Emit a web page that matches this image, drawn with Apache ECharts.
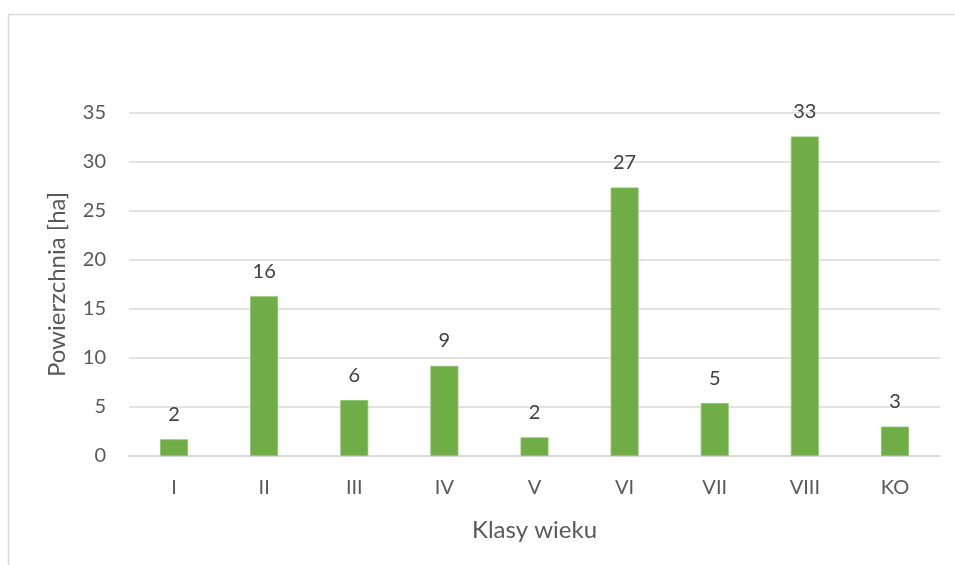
<!DOCTYPE html>
<html>
<head>
<meta charset="utf-8">
<script src="https://cdn.jsdelivr.net/npm/echarts@6/dist/echarts.min.js"></script>
<style>
  html, body { margin: 0; padding: 0; background: #fff; }
  #chart { width: 955px; height: 565px; }
</style>
</head>
<body>
<div id="chart"></div>
<script>
const categories = ["I", "II", "III", "IV", "V", "VI", "VII", "VIII", "KO"];
const areaHa = [1.7, 16.3, 5.7, 9.2, 1.9, 27.4, 5.4, 32.6, 3.0];
const yTicks = { min: 0, max: 35, interval: 5 };

const FONT = "Lato";
const BAR_COLOR = "#70AD47";

const chart = echarts.init(document.getElementById("chart"));
chart.setOption({
  animation: false,
  textStyle: { fontFamily: FONT },
  graphic: [
    {
      type: "rect",
      shape: { x: 8.5, y: 14.5, width: 1000, height: 700 },
      style: { fill: "none", stroke: "#D9D9D9", lineWidth: 1.5 },
      silent: true,
    },
  ],
  grid: { left: 129, right: 15, top: 113, bottom: 109 },
  xAxis: {
    type: "category",
    data: categories,
    name: "Klasy wieku",
    nameLocation: "middle",
    nameGap: 62,
    nameTextStyle: { fontSize: 24, color: "#595959", fontFamily: FONT },
    axisLine: { show: true, lineStyle: { color: "#D9D9D9", width: 1.5 } },
    axisTick: { show: false },
    axisLabel: { fontSize: 20, color: "#595959", margin: 22, fontFamily: FONT },
  },
  yAxis: {
    type: "value",
    min: yTicks.min,
    max: yTicks.max,
    interval: yTicks.interval,
    name: "Powierzchnia [ha]",
    nameLocation: "middle",
    nameGap: 60,
    nameRotate: 90,
    nameTextStyle: { fontSize: 24, color: "#595959", fontFamily: FONT },
    axisLine: { show: false },
    axisTick: { show: false },
    axisLabel: { fontSize: 20, color: "#595959", margin: 23, fontFamily: FONT },
    splitLine: { lineStyle: { color: "#D9D9D9", width: 1.5 } },
  },
  series: [
    {
      type: "bar",
      data: areaHa,
      barWidth: "31%",
      itemStyle: { color: BAR_COLOR, borderColor: "#8CC06A", borderWidth: 0.8 },
      label: {
        show: true,
        position: "top",
        distance: 15,
        fontSize: 20,
        color: "#404040",
        fontFamily: FONT,
        formatter: (p) => Math.round(p.value),
      },
    },
  ],
});
</script>
</body>
</html>
